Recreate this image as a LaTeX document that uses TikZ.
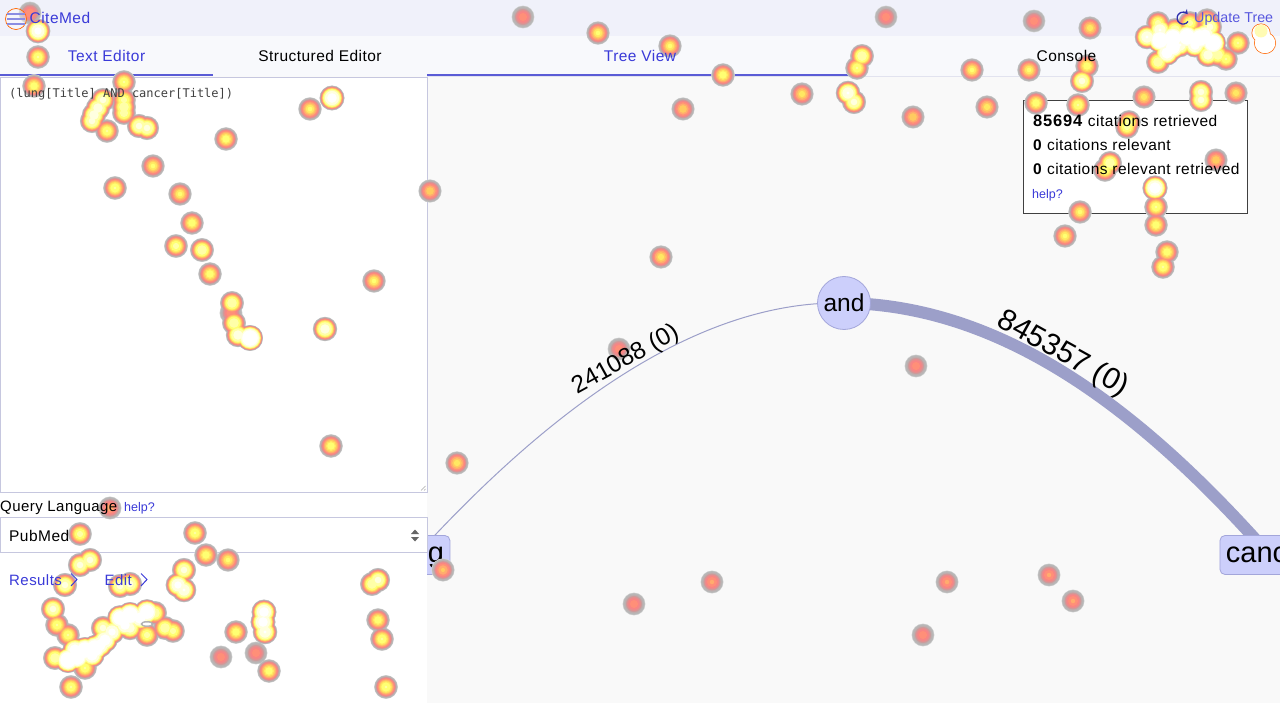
\documentclass[tikz,border=0pt]{standalone}
\usepackage{xcolor}
\usepackage{fontspec}
\setmainfont{Liberation Sans}
\setmonofont{DejaVu Sans Mono}
\newfontfamily\uifont[LetterSpace=3]{Liberation Sans}
\usetikzlibrary{calc, arrows.meta}

\definecolor{topbar}{HTML}{F0F1FA}
\definecolor{tabbar}{HTML}{F8F9FC}
\definecolor{treebg}{HTML}{F9F9F9}
\definecolor{linkblue}{HTML}{3A3AD8}
\definecolor{tabline}{HTML}{5A5CD6}
\definecolor{panelline}{HTML}{C6C7DF}
\definecolor{nodefill}{HTML}{CCCFFB}
\definecolor{nodeline}{HTML}{A3A6DA}
\definecolor{edgecol}{HTML}{9C9FC9}
\definecolor{heatA}{HTML}{BDAFAF}
\definecolor{heatB}{HTML}{CB9C9C}
\definecolor{heatC}{HTML}{E48F8F}
\definecolor{heatD}{HTML}{F88585}
\definecolor{heatE}{HTML}{FF8F78}
\definecolor{heatF}{HTML}{FFAC6E}
\definecolor{heatG}{HTML}{FFCB60}
\definecolor{heatH}{HTML}{FFE862}
\definecolor{heatI}{HTML}{FFFF72}
\definecolor{heatJ}{HTML}{FFFFA8}
\definecolor{heatK}{HTML}{FFFFE0}

\pgfdeclarelayer{back}
\pgfdeclarelayer{edges}
\pgfsetlayers{back,edges,main}

\tikzset{
  uitext/.style={anchor=base west, inner sep=0pt, font=\uifont\fontsize{15}{18}\selectfont},
  uilink/.style={uitext, text=linkblue},
  infotext/.style={uitext, font=\uifont\fontsize{15.5}{18}\selectfont},
  smalllink/.style={anchor=base west, inner sep=0pt, text=linkblue, font=\fontsize{12.5}{15}\selectfont},
  tabtext/.style={anchor=base, inner sep=0pt, font=\uifont\fontsize{15.5}{18}\selectfont},
  treenode/.style={fill=nodefill, draw=nodeline, line width=0.8pt, text=black},
  leafnode/.style={treenode, rounded corners=5pt, minimum height=39pt, inner sep=6pt, font=\fontsize{29}{32}\selectfont},
  edgetext/.style={inner sep=0pt, font=\fontsize{24.5}{28}\selectfont}
}

% heat spots as x/y/peak
\def\spotlist{30/13/.5,38/31/1.4,38/57/.85,34/86/.8,124/82/.85,103/100/1.1,98/108/1.2,94/115/1.2,92/121/1.1,
107/131/.85,124/100/.9,124/107/1,124/113/.95,139/126/1.1,147/128/1.1,226/139/.8,310/109/.75,332/98/1.5,
153/166/.75,115/188/.85,180/194/.75,192/223/.8,176/246/.9,202/250/1,210/274/.8,232/303/1,
231/313/.5,234/323/1,238/335/1.2,250/338/2,325/329/1.2,374/281/.75,430/191/.65,331/446/.8,
457/463/.7,110/508/.55,80/534/.9,195/533/.85,206/555/.8,228/560/.75,80/565/1.1,90/560/1.1,
65/585/1.1,120/586/1.1,130/584/1.1,184/570/1.1,178/585/1.4,184/590/1.3,372/584/1,378/580/1.1,
443/570/.6,53/609/1.1,57/625/.85,68/635/.85,55/658/1,68/660/2,77/657/2,85/650/2,95/648/2,
75/650/1.6,92/655/1.6,105/640/1.6,125/625/1.5,140/618/1.6,
100/645/1.6,103/628/1.1,112/632/1.4,120/618/1.8,130/615/2,130/628/1.2,147/612/1.8,155/613/1,
147/635/.9,165/628/1,173/631/.9,85/668/.85,71/687/.85,236/632/.8,221/657/.48,256/653/.48,
269/671/.8,264/612/1.5,263/622/1.5,265/632/1.3,378/620/.8,382/639/.85,386/687/.85,
523/17/.48,598/33/.75,670/46/.75,723/75/.8,683/109/.65,802/94/.7,848/93/1.3,854/102/1.1,
862/56/1,857/68/.85,886/17/.48,913/117/.65,972/70/.75,987/107/.7,1034/21/.48,1090/28/.7,
1029/70/.75,1036/103/.8,1087/66/.8,1082/81/1.1,1078/105/.85,1144/97/.7,1201/92/1.1,1201/100/1.1,
1236/93/.7,1129/122/.9,1127/127/.9,1110/163/1,1105/170/.85,1216/160/.65,1155/188/1.6,1156/207/.85,
1156/225/.8,1080/212/.75,1065/236/.75,1167/252/.8,1163/267/.85,661/257/.7,619/349/.48,916/366/.48,
634/604/.48,712/582/.52,947/582/.52,1049/575/.52,1073/601/.52,923/635/.48,
1158/23/.9,1147/37/1.3,1160/40/2,1173/38/2,1187/37/2,1200/38/2,1213/43/2,1210/27/1.1,1190/23/.9,
1207/20/.8,1167/53/1.6,1158/62/1,1173/47/1.8,1208/55/1.2,1218/55/1,1226/59/.85,1238/43/.85,
1180/45/1.3,1195/45/1.5,1205/35/1.6,1160/30/1.3,1175/30/1}

\newcommand{\heatlayer}[2]{%
  \foreach \x/\y/\p in \spotlist {
    \ifdim\p pt>#2pt
      \fill[#1] (\x,\y) circle ({(11+\p)*sqrt(1-#2/\p)});
    \fi
  }
}

\begin{document}
\begin{tikzpicture}[x=1pt, y=-1pt]
\useasboundingbox (0,0) rectangle (1280,703);

% ------------------------------------------------------------------
% PAGE BARS
% ------------------------------------------------------------------
\begin{pgfonlayer}{back}
\fill[treebg] (0,0) rectangle (1280,703);
\fill[topbar] (0,0) rectangle (1280,36);
\fill[tabbar] (0,36) rectangle (1280,76);
\draw[panelline!50, line width=0.8pt] (427,76.5) -- (1280,76.5);
\end{pgfonlayer}

% ------------------------------------------------------------------
% TREE
% ------------------------------------------------------------------
\node[treenode, circle, minimum size=53pt, inner sep=0pt, font=\fontsize{24.5}{28}\selectfont] (and) at (844,303) {and};
\node[leafnode] (lung) at (416.5,555) {lung};
\node[leafnode] (cancer) at (1269.5,555) {cancer};

\begin{pgfonlayer}{edges}
\draw[edgecol, line width=1pt]
  (and.center) .. controls (690,300) and (540,420) .. (lung.center);
\draw[edgecol, line width=12pt]
  (and.center) .. controls (1010,305) and (1150,420) .. (cancer.center);
\end{pgfonlayer}

% ------------------------------------------------------------------
% LEFT PANEL
% ------------------------------------------------------------------
\fill[white] (0,77) rectangle (427,703);
\draw[panelline, line width=1pt, fill=white] (0.5,77.5) rectangle (427,492);
\draw[gray!70, line width=0.5pt] (421,490.5) -- (425.5,486) (424,490.5) -- (425.5,489);
\draw[panelline, line width=1pt, fill=white] (0.5,517.5) rectangle (427,552);
\fill[black!60] (411,534) -- (415,529.5) -- (419,534) -- cycle;
\fill[black!60] (411,537) -- (415,541.5) -- (419,537) -- cycle;
\draw[tabline, line width=2pt] (0,75) -- (213,75);
\draw[tabline, line width=2pt] (427,75) -- (853,75);

% ------------------------------------------------------------------
% INFO BOX
% ------------------------------------------------------------------
\draw[black!75, line width=0.8pt, fill=white] (1023.500,100.500) rectangle (1247.500,213.500);

% ------------------------------------------------------------------
% HEAT OVERLAY
% ------------------------------------------------------------------
\heatlayer{black!10}{0.005}
\heatlayer{black!20}{0.02}
\heatlayer{black!28}{0.06}
\heatlayer{heatA}{0.16}
\heatlayer{heatB}{0.24}
\heatlayer{heatC}{0.30}
\heatlayer{heatD}{0.36}
\heatlayer{heatE}{0.42}
\heatlayer{heatF}{0.50}
\heatlayer{heatG}{0.58}
\heatlayer{heatH}{0.65}
\heatlayer{heatI}{0.72}
\heatlayer{heatJ}{0.84}
\heatlayer{heatK}{1.02}
\heatlayer{white}{1.28}

% wrapped peaks
\draw[orange!80!red, line width=0.7pt, fill=white, fill opacity=0.35] (16,19) circle (10.5);
\fill[black!30] (147,624) ellipse (6.5 and 3);
\fill[white] (147,624) ellipse (4.5 and 1.5);
\fill[orange!80!red] (1261,33) circle (9.5) (1265,43) circle (11);
\fill[white] (1261,33) circle (8.8) (1265,43) circle (10.3);
\fill[yellow!30!white] (1261,31) circle (6.5);

% ------------------------------------------------------------------
% TEXTS
% ------------------------------------------------------------------
\node[edgetext, rotate=29] (leftcount) at (626,360) {241088 (0)};
\node[edgetext, font=\fontsize{30}{32}\selectfont, rotate=-29] (rightcount) at (1063,354) {845357 (0)};

\node[anchor=base west, inner sep=0pt, font=\ttfamily\fontsize{12}{14}\selectfont, text=black!75] (querytext) at (9,98) {(lung[Title] AND cancer[Title])};
\node[uitext] (querylang) at (0,511) {Query Language};
\node[smalllink] (langhelp) at (124,511) {help?};
\node[uitext, font=\uifont\fontsize{15.5}{18}\selectfont] (pubmed) at (9,541) {PubMed};
\node[uilink] (results) at (9,585) {Results};
\node[uilink] (edit) at (104.500,585) {Edit};
\draw[linkblue, line width=1pt] (71,573.500) -- (77,579.500) -- (71,586);
\draw[linkblue, line width=1pt] (141,573.500) -- (147,579.500) -- (141,586);

\foreach \y in {14,19,24} {
  \draw[tabline!70, line width=1.2pt] (7,\y) -- (25,\y);
}
\node[uilink, font=\uifont\fontsize{15.5}{18}\selectfont] (brand) at (29.500,23.500) {CiteMed};
\node[tabtext, text=linkblue] (texttab) at (106.500,62) {Text Editor};
\node[tabtext] (structtab) at (320,62) {Structured Editor};
\node[tabtext, text=linkblue] (treetab) at (640,62) {Tree View};
\node[tabtext] (consoletab) at (1066.500,62) {Console};

\node[anchor=base west, inner sep=0pt, text=linkblue!85, font=\fontsize{14.3}{16}\selectfont] (updatetree) at (1194,23) {Update Tree};
\draw[linkblue!80!black, line width=1.3pt, -{Stealth[length=4.5pt, width=5.5pt]}] (1188,21.500) arc[start angle=35, delta angle=285, radius=6];

\node[infotext] (retrieved) at (1033,126.500) {\textbf{\addfontfeature{LetterSpace=5}\fontsize{16.5}{18}\selectfont 85694} citations retrieved};
\node[infotext] (relevant) at (1033,150.500) {\textbf{0} citations relevant};
\node[infotext] (relretrieved) at (1033,174.500) {\textbf{0} citations relevant retrieved};
\node[smalllink] (boxhelp) at (1032,198.500) {help?};
\end{tikzpicture}
\end{document}
